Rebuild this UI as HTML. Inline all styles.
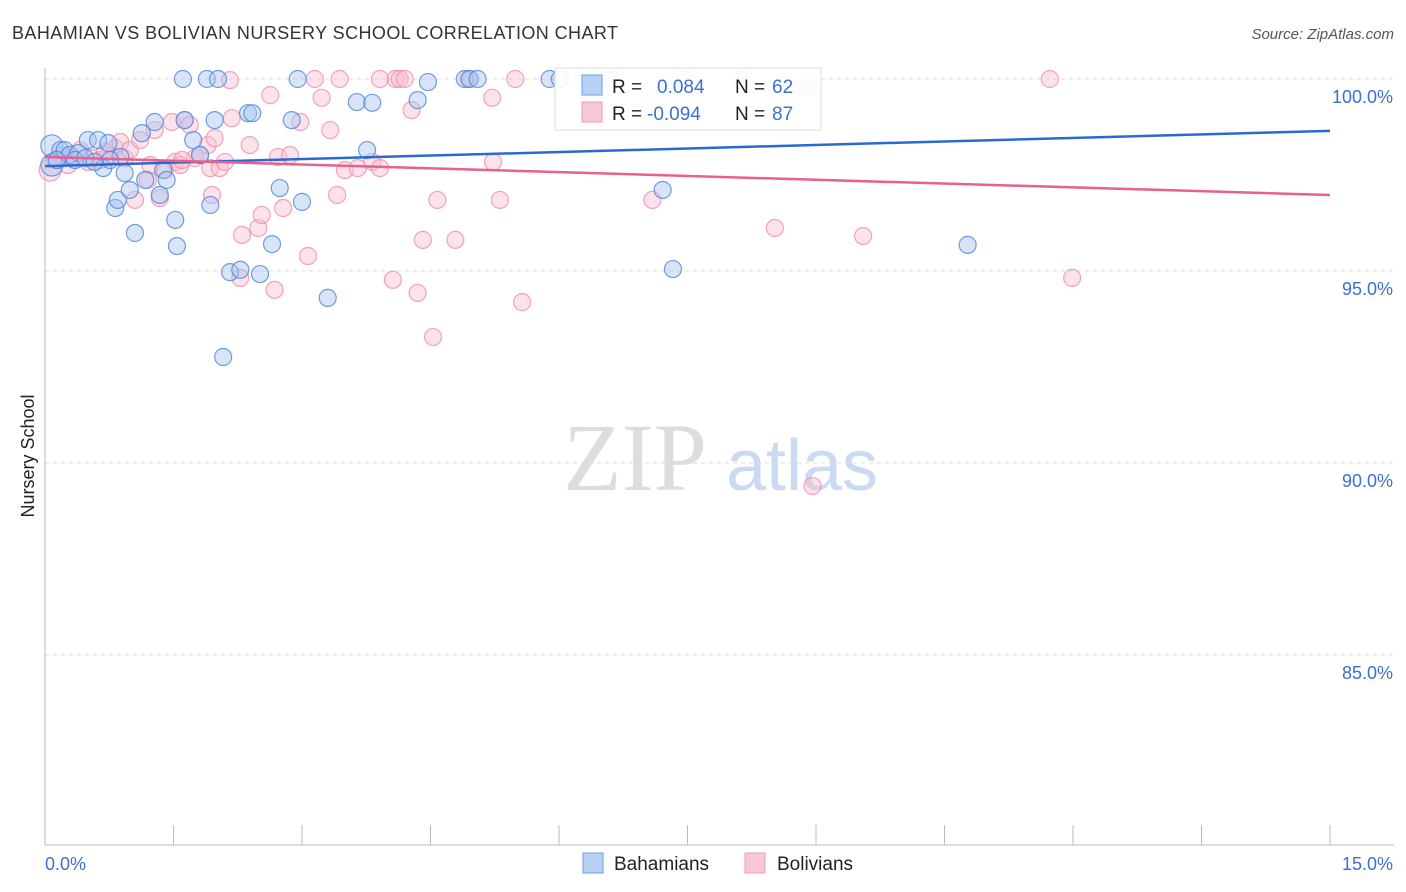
<!DOCTYPE html>
<html><head><meta charset="utf-8"><style>
body{margin:0;background:#fff;font-family:"Liberation Sans",sans-serif;}
</style></head><body>
<svg id="chart" width="1406" height="892" xmlns="http://www.w3.org/2000/svg" style="display:block">
<text x="12" y="39" font-size="18" fill="#333" textLength="606">BAHAMIAN VS BOLIVIAN NURSERY SCHOOL CORRELATION CHART</text>
<text x="1394" y="39" font-size="15" fill="#555" font-style="italic" text-anchor="end">Source: ZipAtlas.com</text>
<text x="34" y="456" font-size="18" fill="#222" text-anchor="middle" transform="rotate(-90 34 456)">Nursery School</text>
<g>
<text x="635" y="490" font-size="96" fill="#ddd" font-family="Liberation Serif,serif" text-anchor="middle">ZIP</text>
<text x="802" y="490" font-size="72" fill="#c9daf2" text-anchor="middle">atlas</text>
</g>
<g id="grid"></g>
<g id="axes"></g>
<g id="points"></g>
<g id="trends"></g>
<g>
<rect x="555" y="68" width="266" height="62" fill="#fff" fill-opacity="0.9" stroke="#ddd"/>
<rect x="582" y="75" width="20" height="20" fill="#b8d0f4" stroke="#6f9ee6"/>
<rect x="582" y="102" width="20" height="20" fill="#f9c8d6" stroke="#f09ab4"/>
<text x="612" y="93" font-size="19" fill="#222">R =</text><text x="657" y="93" font-size="19" fill="#3b6fd0">0.084</text>
<text x="735" y="93" font-size="19" fill="#222">N =</text><text x="772" y="93" font-size="19" fill="#3b6fd0">62</text>
<text x="612" y="120" font-size="19" fill="#222">R =</text><text x="647" y="120" font-size="19" fill="#3b6fd0">-0.094</text>
<text x="735" y="120" font-size="19" fill="#222">N =</text><text x="772" y="120" font-size="19" fill="#3b6fd0">87</text>
</g>
<g>
<rect x="583" y="853" width="20" height="20" fill="#b8d0f4" stroke="#6f9ee6"/>
<text x="614" y="870" font-size="19" fill="#222">Bahamians</text>
<rect x="745" y="853" width="20" height="20" fill="#f9c8d6" stroke="#f09ab4"/>
<text x="777" y="870" font-size="19" fill="#222">Bolivians</text>
</g>
</svg>
<script>
const yTicks=[100,95,90,85];
const yTickLabels=["100.0%","95.0%","90.0%","85.0%"];
const xTicks=[0,1.5,3,4.5,6,7.5,9,10.5,12,13.5,15];
const xEndLabels=["0.0%","15.0%"];
const blueX=[0.08,0.18,0.23,0.29,0.39,0.50,0.62,0.68,0.74,0.82,0.85,0.88,0.93,0.99,1.05,1.13,1.17,1.28,1.34,1.38,1.42,1.52,1.54,1.61,1.63,1.73,1.81,1.89,1.93,1.98,2.02,2.08,2.16,2.28,2.37,2.42,2.51,2.65,2.74,2.88,2.95,3.00,3.30,3.64,3.76,3.82,4.35,4.47,4.90,4.96,5.05,5.89,6.01,7.21,7.33,10.77,0.08,0.14,0.35,0.47,0.76,0.58];
const blueY=[98.26,98.15,98.15,98.02,98.07,98.41,98.41,97.68,98.33,96.64,96.85,97.97,97.55,97.11,95.99,98.59,97.37,98.88,96.98,97.63,97.37,96.33,95.65,100,98.93,98.41,98.02,100,96.72,98.93,100,92.76,94.97,95.03,99.11,99.11,94.92,95.70,97.16,98.93,100,96.80,94.30,99.40,98.15,99.38,99.45,99.92,100,100,100,100,100,97.11,95.05,95.68,97.76,97.89,97.89,97.94,97.89,97.84];
const pinkX=[0.06,0.12,0.20,0.27,0.41,0.50,0.64,0.74,0.82,0.88,0.93,0.99,1.05,1.11,1.20,1.23,1.28,1.34,1.40,1.48,1.52,1.58,1.63,1.69,1.75,1.81,1.90,1.93,1.95,1.98,2.04,2.10,2.18,2.28,2.30,2.39,2.49,2.53,2.63,2.68,2.72,2.78,2.86,2.98,3.07,3.15,3.23,3.33,3.41,3.44,3.50,3.65,3.82,3.91,4.06,4.09,4.14,4.20,4.28,4.35,4.41,4.53,4.58,4.79,4.94,5.22,5.23,5.31,5.49,5.57,7.09,7.47,8.11,8.52,8.91,8.96,9.55,11.73,11.99,3.91,0.32,0.55,0.70,1.60,2.16,6.60];
const pinkY=[97.63,97.89,98.02,97.76,98.15,97.84,97.89,98.02,98.20,98.36,97.94,98.15,96.85,98.41,97.37,97.76,98.67,96.90,97.63,98.88,97.84,97.76,98.93,98.80,97.94,98.02,98.28,97.68,96.98,98.46,97.68,97.84,98.98,94.82,95.94,98.28,96.12,96.46,99.58,94.51,97.97,96.64,98.02,98.88,95.39,100,99.51,98.67,96.98,100,97.63,97.68,97.84,97.68,94.77,100,100,100,99.19,94.43,95.81,93.28,96.85,95.81,100,99.51,97.84,96.85,100,94.19,96.85,100,100,96.12,99.77,89.40,95.91,100,94.82,100,97.97,97.94,98.10,97.89,99.97,100];
const blueTrend=[97.73,98.65];
const pinkTrend=[97.97,96.98];
const X0=45,X1=1330,Y100=79,PX5=192;
const xs=v=>X0+(v/15)*(X1-X0);
const ys=v=>Y100+(100-v)/5*PX5;
const NS="http://www.w3.org/2000/svg";
function mk(t,a,p){const e=document.createElementNS(NS,t);for(const k in a)e.setAttribute(k,a[k]);p.appendChild(e);return e;}
const grid=document.getElementById('grid'),axes=document.getElementById('axes'),pts=document.getElementById('points'),tr=document.getElementById('trends');
yTicks.forEach((t,i)=>{
 const l=mk('line',{x1:X0,x2:1394,y1:ys(t),y2:ys(t),stroke:'#ddd','stroke-dasharray':'4,4'},grid);
 
 
 const tx=mk('text',{x:1393,y:ys(t)+24,'font-size':18,fill:'#3b6fd0','text-anchor':'end'},axes);
 tx.textContent=yTickLabels[i];
 
 
});
const ax=mk('line',{x1:X0,x2:X0,y1:68,y2:845,stroke:'#bbb'},axes);


const bx=mk('line',{x1:X0,x2:1394,y1:845,y2:845,stroke:'#bbb'},axes);


xTicks.forEach(t=>{
 const l=mk('line',{x1:xs(t),x2:xs(t),y1:825,y2:845,stroke:'#bbb'},axes);
 
 
});
const xl0=mk('text',{x:45,y:870,'font-size':18,fill:'#3b6fd0'},axes);xl0.textContent=xEndLabels[0];


const xl1=mk('text',{x:1393,y:870,'font-size':18,fill:'#3b6fd0','text-anchor':'end'},axes);xl1.textContent=xEndLabels[1];


function draw(X,Y,fill,stroke,name){
 X.forEach((x,i)=>{
  const r=x<0.1?11:8.5;
  const c=mk('circle',{cx:xs(x),cy:ys(Y[i]),r:r,fill:fill,'fill-opacity':0.45,stroke:stroke,'stroke-opacity':0.8,'stroke-width':1.2},pts);
  
  
 });
}
draw(pinkX,pinkY,'#f9bfd0','#ee8fad','bolivian-point');
draw(blueX,blueY,'#a9c6f2','#4f86da','bahamian-point');
const bl=mk('line',{x1:xs(0),y1:ys(blueTrend[0]),x2:xs(15),y2:ys(blueTrend[1]),stroke:'#2a6ad0','stroke-width':2.5},tr);


const pl=mk('line',{x1:xs(0),y1:ys(pinkTrend[0]),x2:xs(15),y2:ys(pinkTrend[1]),stroke:'#e8608c','stroke-width':2.5},tr);


</script>
</body></html>
